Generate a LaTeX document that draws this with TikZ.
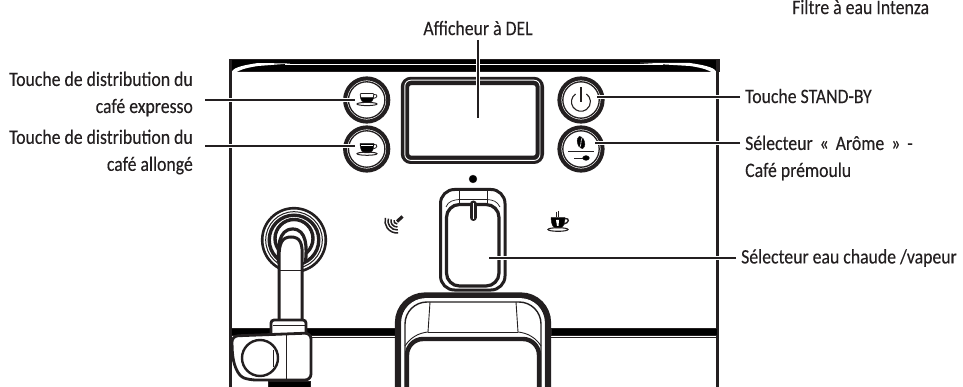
\documentclass[tikz,border=0pt]{standalone}
\usepackage{fontspec}
\usetikzlibrary{calc}
\setmainfont[FakeStretch=0.865,FakeBold=0.25]{Carlito}
\definecolor{ink}{HTML}{231F20}
\tikzset{
  ink/.style={draw=ink,line cap=butt},
  leader/.style={draw=ink,line width=1.9pt,preaction={draw=white,line width=4.4pt}},
  lab/.style={font=\fontsize{20.5}{27}\selectfont,text=ink,inner sep=0pt,align=left,anchor=west},
  labr/.style={font=\fontsize{20.5}{27}\selectfont,text=ink,inner sep=0pt,align=right,anchor=east},
  btnring/.style={draw=ink,line width=4pt},
  thinl/.style={draw=ink,line width=0.9pt},
  whl/.style={draw=white,line width=0.8pt},
}
\begin{document}
\begin{tikzpicture}[x=1pt,y=-1pt]
\useasboundingbox (0,0) rectangle (963,387);
% panel
\fill[ink] (229,59.5) rectangle (719,71.5);
\draw[whl,line width=1pt] (285,64.5) -- (663,64.5);
\fill[white] (232,71.5) .. controls (234,67) and (245,65) .. (258,63) -- (290,63.5) -- (258,66) .. controls (245,68) and (238,70) .. (233,75) -- cycle;
\fill[white] (716,71.5) .. controls (714,67) and (703,65) .. (690,63) -- (640,63) -- (690,66) .. controls (703,68) and (710,70) .. (715,75) -- cycle;
\fill[white] (232,72) rectangle (716,387);
\draw[ink,line width=3.2pt] (230.6,60) -- (230.6,387);
\draw[ink,line width=3.2pt] (717.4,60) -- (717.4,387);
% shelf
\fill[ink] (231,328) rectangle (396,335);
\fill[ink] (551,328) rectangle (717,335);
\draw[thinl] (312,337) -- (395,337);
\draw[thinl] (551,337) -- (717,337);
% display
\draw[ink,line width=8.4pt,rounded corners=6pt] (405,81) rectangle (539.8,159.8);
\draw[whl,line width=0.9pt,rounded corners=6pt] (404.8,80.2) rectangle (540,160.4);
% buttons
\foreach \n/\cx/\cy in {be/366.7/100,bl/366.7/149,bs/581/100,ba/581/149}{
  \node[circle,minimum size=47pt,inner sep=0pt] (\n) at (\cx,\cy) {};
  \draw[btnring] (\cx,\cy) circle (21.6);
  \draw[thinl,line width=1.3pt] (\cx,\cy) circle (18.2);
}
% espresso icon
\draw[thinl,line width=0.8pt,rounded corners=1pt] (360,93.5) -- (374,93.5) -- (373,99) -- (361,99) -- cycle;
\fill[ink] (360.5,97.5) -- (373.5,97.5) .. controls (373,101) and (371,102.5) .. (369,102.5) -- (365,102.5) .. controls (363,102.5) and (361,101) .. (360.5,97.5) -- cycle;
\draw[thinl,line width=0.8pt] (374,94.5) .. controls (378,94) and (378,98) .. (373.2,98.5);
\draw[thinl,line width=1pt] (367,104) ellipse (10 and 1.6);
% lungo icon
\fill[ink] (360,143.5) -- (374,143.5) .. controls (374,149) and (372,153) .. (369,153) -- (365,153) .. controls (362,153) and (360,149) .. (360,143.5) -- cycle;
\draw[white,line width=0.7pt] (361,145.5) -- (373,145.5);
\draw[thinl,line width=0.8pt] (374,144.5) .. controls (378,144) and (378,148) .. (373,149);
\draw[thinl,line width=1pt] (367,153.7) ellipse (10 and 1.6);
% power icon
\draw[thinl,line width=1.1pt] (575.5,94) arc[start angle=235,end angle=-55,radius=9.5];
\draw[thinl,line width=1.1pt] (581,87.5) -- (581,102);
% aroma icon
\fill[ink,rotate around={15:(581,142.5)}] (581,142.5) ellipse (3.6 and 6.4);
\draw[white,line width=0.6pt] (579.5,148) .. controls (582,144) and (580,141) .. (582.5,137);
\draw[thinl,line width=0.9pt] (568,151) -- (594,151);
\draw[ink,line width=1.5pt] (574,158.5) -- (585,158.5);
\fill[ink] (586,158) ellipse (3.4 and 2.4);
% steam wand
\draw[ink,line width=2.6pt] (294,240) circle (31.8);
\draw[thinl,line width=1pt] (294,240) circle (28.3);
\draw[ink,line width=3.4pt] (294,240) circle (24.8);
\draw[ink,line width=3.4pt] (294,238.5) circle (19);
\fill[white] (294,238.5) circle (16.5);
\draw[ink,line width=3.2pt,fill=white] (278.5,262) .. controls (278,248) and (278,229.5) .. (292.5,229) .. controls (307,229) and (307,248) .. (305.5,262);
\fill[white] (279,320) -- (279,262) .. controls (279,245) and (282,238) .. (291,238) .. controls (300,238) and (302,245) .. (301,262) -- (301,320) -- cycle;
\draw[ink,line width=3pt] (279,320) -- (279,258) .. controls (279,243) and (282,237) .. (291,237) .. controls (300,237) and (303,243) .. (302,258) -- (302,320);
\draw[thinl,line width=0.8pt] (279,270) -- (302,270);
\draw[ink,line width=2.8pt,fill=white,rounded corners=3pt] (271,335) -- (271,320) -- (306,320) -- (306,335);
\draw[thinl] (273,325) -- (305,325);
% block
\draw[ink,line width=2.8pt,fill=white,rounded corners=6pt] (232,336) -- (311,333) -- (311,380) -- (250,380) .. controls (238,376) and (233,365) .. (232,345) -- cycle;
\draw[ink,line width=2.4pt] (260,358) circle (18);
\draw[thinl] (273,350) -- (273,367);
\draw[thinl] (286.5,335) -- (286.5,380);
\fill[ink] (268,381) rectangle (310,387);
% selector
\fill[ink] (473,179) circle (3.9);
\draw[ink,line width=3pt,fill=white,rounded corners=14pt] (440.5,189.5) rectangle (505,290);
\draw[ink,line width=3.2pt,rounded corners=13pt] (446.5,204.5) rectangle (499,286);
\draw[thinl,line width=0.7pt] (459,191) -- (459,203);
\draw[thinl,line width=0.7pt] (487,191) -- (487,203);
\draw[thinl,line width=0.7pt] (446,207) .. controls (448,201) and (454,200) .. (459,199.5) -- (487,199.5) .. controls (493,200) and (497,201) .. (500,207);
\draw[ink,line width=7pt,line cap=round] (473,204) -- (473,217.5);
\draw[white,line width=0.7pt] (473,203) -- (473,219);
% steam symbol
\draw[ink,line width=3.2pt] (402.5,216.5) -- (397,221.5);
\foreach \r/\w in {3/1.5,6/1.5,9/1.5,12/1.5}{
  \draw[ink,line width=\w pt] ($(397,221)+(85:\r)$) arc[start angle=85,end angle=195,radius=\r];
}
% cup symbol
\draw[thinl,line width=0.8pt] (558,211) -- (558,217);
\draw[thinl,line width=0.8pt] (556,212) -- (556,217);
\fill[ink] (551,217.5) -- (565,217.5) .. controls (565,224) and (563,228) .. (560,228) -- (556,228) .. controls (553,228) and (551,224) .. (551,217.5) -- cycle;
\fill[white] (556,220) -- (559,220) -- (558.5,226) -- (557,226) -- cycle;
\draw[ink,line width=1.4pt] (565,218.5) .. controls (570,218) and (569,223) .. (564,224);
\draw[thinl,line width=1.1pt] (558,229.5) ellipse (10 and 1.8);
% cup holder
\draw[ink,line width=6.2pt,rounded corners=27pt] (398,387) -- (398,295.5) -- (548,295.5) -- (548,387);
\draw[white,line width=0.8pt,rounded corners=24pt] (402,387) -- (402,298.5) -- (544,298.5) -- (544,387);
\draw[ink,line width=1.4pt,rounded corners=22pt] (405,387) -- (405,302) -- (541,302) -- (541,387);
\draw[ink,line width=4.4pt,rounded corners=16pt] (407,387) -- (407,339) -- (539,339) -- (539,387);
\draw[thinl] (430,302) -- (428,332);
\draw[thinl] (516,302) -- (518,332);
\draw[thinl] (428,332) -- (518,332);
\draw[thinl] (428,332) .. controls (418,333) and (410,338) .. (405,346);
\draw[thinl] (518,332) .. controls (528,333) and (536,338) .. (541,346);
% targets
\coordinate (tdel) at (478,118);
\coordinate (tbe) at (355,100.3);
\coordinate (tbl) at (355,146);
\coordinate (tbs) at (597,97);
\coordinate (tba) at (595,143);
\coordinate (tsel) at (489,258);
% labels
\node[font=\fontsize{20.5}{27}\selectfont,text=ink,inner sep=0pt] (ldel) at (478,28) {Afficheur à DEL};
\node[lab] (lint) at (792,7) {Filtre à eau Intenza};
\node[labr] (l1) at (193,94) {Touche de distribution du\\café expresso};
\node[labr] (l2) at (193,152) {Touche de distribution du\\café allongé};
\node[lab] (l3) at (745,96) {Touche STAND-BY};
\node[lab] (l4) at (745,158) {Sélecteur\hspace{3pt} «\hspace{3pt} Arôme\hspace{3pt} »\hspace{3pt} -\\Café prémoulu};
\node[lab] (l5) at (741,258) {Sélecteur eau chaude /vapeur};
% leaders
\coordinate (sdel) at (478,40);
\coordinate (s1) at (205,100.3);
\coordinate (s2) at (205,146);
\coordinate (s3) at (740,97);
\coordinate (s4) at (740,143);
\coordinate (s5) at (736,258);
\draw[leader] (sdel) -- (tdel);
\draw[leader] (s1) -- (tbe);
\draw[leader] (s2) -- (tbl);
\draw[leader] (s3) -- (tbs);
\draw[leader] (s4) -- (tba);
\draw[leader] (s5) -- (tsel);
\end{tikzpicture}
\end{document}
